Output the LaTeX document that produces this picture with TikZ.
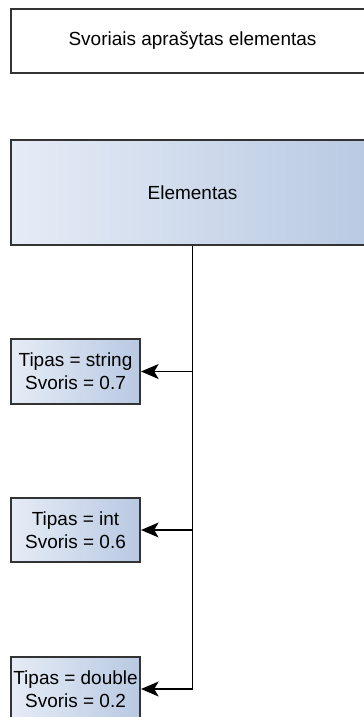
\documentclass[tikz,border=0pt]{standalone}
\usepackage{fontspec}
\setmainfont{Liberation Sans}
\usetikzlibrary{arrows.meta}

\definecolor{boxlight}{HTML}{E6ECF6}
\definecolor{boxdark}{HTML}{B8C9E2}

\begin{document}
\begin{tikzpicture}[x=0.02cm,y=-0.02cm,
		box/.style = {draw=black!80, line width=1.2pt, rectangle, inner sep=0pt, align=center, font=\fontsize{10.8}{13}\selectfont},
		grad/.style = {box, left color=boxlight, right color=boxdark},
		link/.style = {line width=0.85pt, -{Stealth[length=10pt,width=8.5pt,inset=2.5pt]}}]
				\useasboundingbox (0,0) rectangle (364,717);
				\clip (0,0) rectangle (364,717);
				\node[box, fill=white, minimum width=7.26cm, minimum height=1.28cm] (title) at (192.5,41) {Svoriais aprašytas elementas};
				\node[grad, minimum width=7.26cm, minimum height=2.1cm] (elem) at (192.5,192.5) {Elementas};
				\begin{scope}[every node/.style={grad, minimum width=2.58cm, minimum height=1.29cm}]
					\node (str) at (75.5,371.5) {Tipas = string\\Svoris = 0.7};
					\node (int) at (75.5,530) {Tipas = int\\Svoris = 0.6};
					\node (dbl) at (75.5,689) {Tipas = double\\Svoris = 0.2};
				\end{scope}
				\draw [link] (elem.south) |- (str.east);
				\draw [link] (elem.south) |- (int.east);
				\draw [link] (elem.south) |- (dbl.east);
			\end{tikzpicture}
\end{document}
